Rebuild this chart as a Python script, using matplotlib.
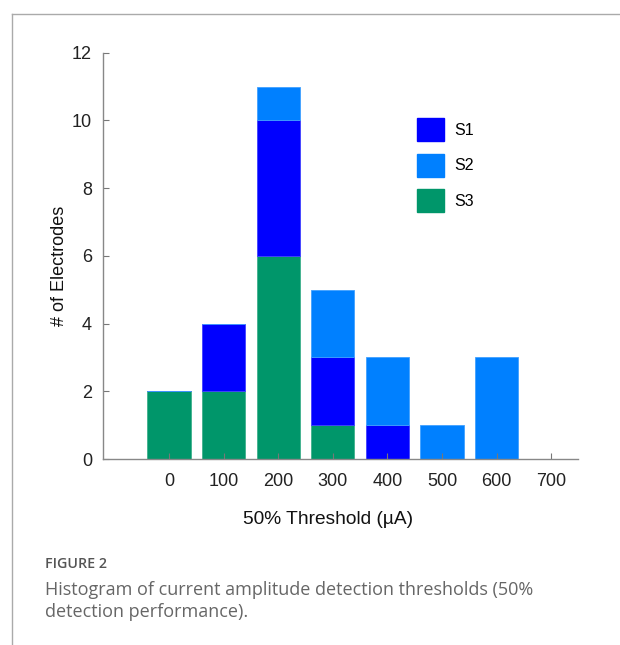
import matplotlib
matplotlib.use("Agg")
import matplotlib.pyplot as plt
import numpy as np
from matplotlib.patches import Patch
from matplotlib.lines import Line2D

# Data
thresholds = [0, 100, 200, 300, 400, 500, 600, 700]
s3 = [2, 2, 6, 1, 0, 0, 0, 0]
s1 = [0, 2, 4, 2, 1, 0, 0, 0]
s2 = [0, 0, 1, 2, 2, 1, 3, 0]
series_names = ["S1", "S2", "S3"]
colors = {"S1": "#0000FF", "S2": "#0080FF", "S3": "#00966A"}
yticks = [0, 2, 4, 6, 8, 10, 12]

plt.rcParams['font.family'] = ['Liberation Sans', 'DejaVu Sans']

W, H = 620, 645
AX_L, AX_R, AX_T, AX_B = 103, 578, 52.7, 459
fig = plt.figure(figsize=(W / 100, H / 100), dpi=100)
ax = fig.add_axes([AX_L / W, 1 - AX_B / H, (AX_R - AX_L) / W, (AX_B - AX_T) / H])

def ax_x(px):
    return (px - AX_L) / (AX_R - AX_L)

def ax_y(py):
    return (AX_B - py) / (AX_B - AX_T)

x = np.array(thresholds)
b3 = np.array(s3)
b1 = np.array(s1)
b2 = np.array(s2)
width = 79
ax.bar(x, b3, width=width, color=colors["S3"], edgecolor="#3fb08c", linewidth=0.6)
ax.bar(x, b1, width=width, bottom=b3, color=colors["S1"], edgecolor="#4040ff", linewidth=0.6)
ax.bar(x, b2, width=width, bottom=b3 + b1, color=colors["S2"], edgecolor="#40a0ff", linewidth=0.6)

ax.set_xlim(-121, 749)
ax.set_ylim(0, 12)
ax.set_xticks(thresholds)
ax.set_yticks(yticks)
ax.tick_params(direction="in", length=4, width=0.8, color="#777777",
               labelsize=13, labelcolor="#222222")
ax.tick_params(axis="x", pad=10)
ax.tick_params(axis="y", pad=8)
for side in ["top", "right"]:
    ax.spines[side].set_visible(False)
for side in ["left", "bottom"]:
    ax.spines[side].set_color("#888888")
    ax.spines[side].set_linewidth(1.0)

ax.set_ylabel("# of Electrodes", fontsize=13, color="#111111", va="center")
ax.yaxis.set_label_coords(ax_x(59), ax_y(266))
ax.set_xlabel("50% Threshold (\u00b5A)", fontsize=13.8, color="#111111", va="center")
ax.xaxis.set_label_coords(ax_x(328), ax_y(519))

handles = [Patch(facecolor=colors[n], edgecolor=colors[n]) for n in series_names]
leg = ax.legend(handles, series_names, loc="upper left",
                bbox_to_anchor=(ax_x(416.5), ax_y(118)),
                frameon=False, fontsize=11.5, handlelength=1.75, handleheight=1.85,
                labelspacing=0.78, handletextpad=0.62, borderaxespad=0, borderpad=0)

# frame lines around figure
fig.add_artist(Line2D([12 / W, 1.0], [1 - 14 / H, 1 - 14 / H], color="#aaaaaa", lw=1.0))
fig.add_artist(Line2D([12 / W, 12 / W], [1 - 14 / H, 0], color="#aaaaaa", lw=1.0))

# caption
fig.text(45 / W, 1 - 564 / H, "FIGURE 2", fontsize=10.3, color="#555555",
         family=["Open Sans", "DejaVu Sans"], fontweight="semibold", va="center")
fig.text(45 / W, 1 - 590 / H, "Histogram of current amplitude detection thresholds (50%",
         fontsize=13, color="#666666", family=["Open Sans", "DejaVu Sans"], va="center")
fig.text(45 / W, 1 - 612 / H, "detection performance).",
         fontsize=13, color="#666666", family=["Open Sans", "DejaVu Sans"], va="center")

fig.savefig("out.png", dpi=100)
